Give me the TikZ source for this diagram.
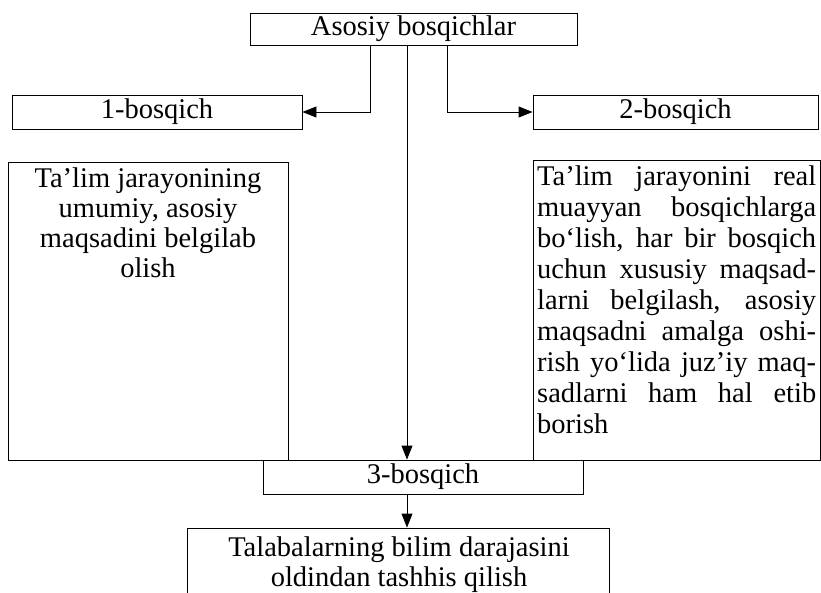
\documentclass[tikz,border=0pt]{standalone}
\usepackage{fontspec}
\setmainfont{Liberation Serif}
\usetikzlibrary{arrows.meta}
\begin{document}
\begin{tikzpicture}[x=1pt,y=-1pt,
  box/.style={draw, line width=0.9pt, inner sep=0pt},
  lbl/.style={font=\fontsize{28.5}{31}\selectfont, inner sep=0pt},
  ln/.style={line width=0.9pt},
  arr/.style={line width=0.9pt, -{Triangle[length=14pt,width=11pt]}}]
\clip (0,0) rectangle (821,592);
% boxes
\node[box, lbl, minimum width=327, minimum height=32] (top) at (413.5,29) {Asosiy bosqichlar};
\node[box, lbl, minimum width=290, minimum height=34] (b1) at (157,112) {1-bosqich};
\node[box, lbl, minimum width=285, minimum height=34] (b2) at (675.5,112) {2-bosqich};
\node[box, minimum width=280, minimum height=298] (lb) at (148,311) {};
\node[box, minimum width=287, minimum height=300] (rb) at (676.5,310) {};
\node[box, lbl, minimum width=320, minimum height=34] (b3) at (423,477) {3-bosqich};
\node[box, minimum width=422, minimum height=80] (b4) at (398,568) {};
% texts
\node[lbl, anchor=base] (lt) at (148,187) {\parbox[t]{276pt}{\fontsize{28.5}{30.3}\selectfont\centering
Ta’lim jarayonining\\umumiy, asosiy\\maqsadini belgilab\\olish}};
\node[lbl, anchor=base west] (rt) at (537,185) {\parbox[t]{279pt}{\fontsize{28.5}{31}\selectfont\raggedright
\makebox[\linewidth][s]{Ta’lim jarayonini real}\\
\makebox[\linewidth][s]{muayyan bosqichlarga}\\
\makebox[\linewidth][s]{bo‘lish, har bir bosqich}\\
\makebox[\linewidth][s]{uchun xususiy maqsad-}\\
\makebox[\linewidth][s]{larni belgilash, asosiy}\\
\makebox[\linewidth][s]{maqsadni amalga oshi-}\\
\makebox[\linewidth][s]{rish yo‘lida juz’iy maq-}\\
\makebox[\linewidth][s]{sadlarni ham hal etib}\\
borish}};
\node[lbl, anchor=base] (bt) at (399,556) {\parbox[t]{410pt}{\fontsize{28.5}{30}\selectfont\centering
Talabalarning bilim darajasini\\oldindan tashhis qilish}};
% connectors
\coordinate (p1) at ([xshift=-43.5pt]top.south);
\coordinate (p2) at ([xshift=-6.5pt]top.south);
\coordinate (p3) at ([xshift=33.5pt]top.south);
\draw[arr] (p1) |- (b1.east);
\draw[arr] (p3) |- (b2.west);
\draw[arr] (p2) -- (p2 |- b3.north);
\draw[arr] (b3.south -| p2) -- (b4.north -| p2);
\end{tikzpicture}
\end{document}
